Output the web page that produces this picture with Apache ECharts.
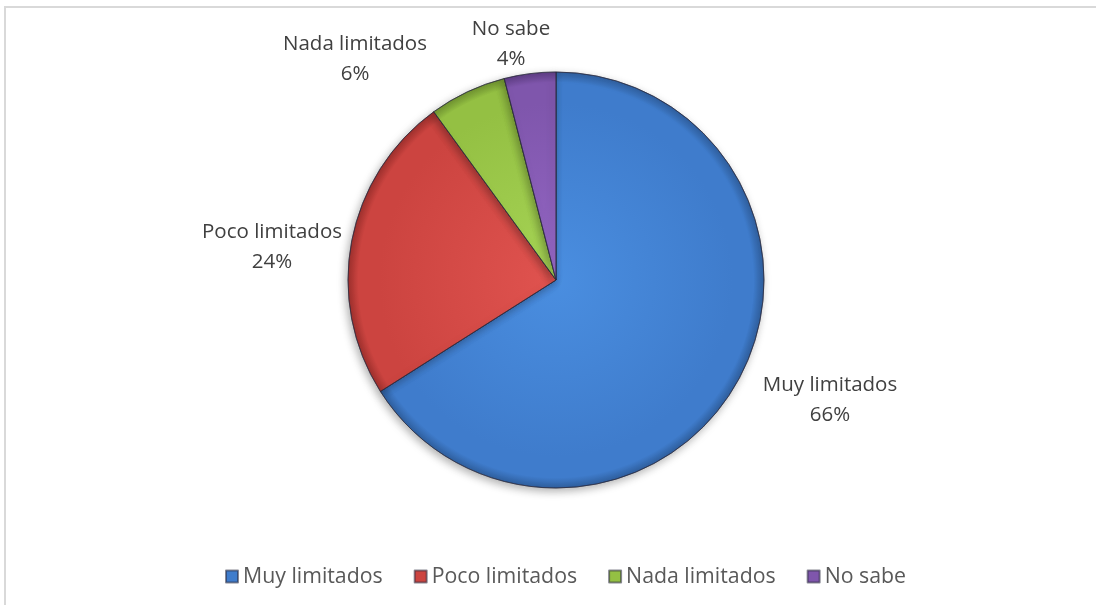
<!DOCTYPE html>
<html>
<head>
<meta charset="utf-8">
<script src="https://cdn.jsdelivr.net/npm/echarts@6/dist/echarts.min.js"></script>
<style>
  html, body { margin: 0; padding: 0; background: #fff; }
  #pieChart { width: 1096px; height: 605px; }
</style>
</head>
<body>
<div id="pieChart"></div>
<script>
// datos
var categories = ['Muy limitados', 'Poco limitados', 'Nada limitados', 'No sabe'];
var percents = [66, 24, 6, 4];

// colores estilo Office (claro en el centro, oscuro al borde)
var lightColors = ['#4a8ee0', '#e0534f', '#a6d455', '#9466c4'];
var baseColors = ['#3f7ccc', '#cc4440', '#94c043', '#7f56ac'];
var darkColors = ['#2f5f9e', '#9e302d', '#6f9330', '#5e3d84'];

var cx = 556, cy = 280, radius = 208;
// donde Excel coloca las etiquetas (centro del texto)
var labelSpots = [[830, 400], [272, 247], [355, 59], [511, 44]];

var chartDom = document.getElementById('pieChart');
var myChart = echarts.init(chartDom);
var option;

var pieData = categories.map(function (name, i) {
    return {
        name: name,
        value: percents[i],
        itemStyle: {
            color: {
                type: 'radial', x: cx, y: cy, r: radius, global: true,
                colorStops: [
                    { offset: 0, color: lightColors[i] },
                    { offset: 0.85, color: baseColors[i] },
                    { offset: 0.95, color: baseColors[i] },
                    { offset: 1, color: darkColors[i] }
                ]
            }
        }
    };
});

option = {
    backgroundColor: '#fff',
    color: baseColors,
    textStyle: { fontFamily: 'Open Sans' },
    graphic: [
        {
            type: 'rect',
            shape: { x: 5, y: 7, width: 1200, height: 700 },
            style: { fill: 'none', stroke: '#d9d9d9', lineWidth: 2 },
            silent: true
        }
    ],
    legend: {
        bottom: 13,
        left: 220,
        itemWidth: 12,
        itemHeight: 12,
        itemGap: 31,
        icon: 'rect',
        textStyle: { fontSize: 21.3, color: '#595959', fontFamily: 'Open Sans' },
        data: categories.map(function (name, i) {
            return { name: name, itemStyle: { color: baseColors[i] } };
        })
    },
    series: [
        {
            name: 'Limitación',
            type: 'pie',
            center: [cx, cy],
            radius: radius,
            startAngle: 90,
            clockwise: true,
            avoidLabelOverlap: false,
            data: pieData,
            itemStyle: {
                borderColor: 'rgba(40,40,60,0.55)',
                borderWidth: 1,
                shadowBlur: 8,
                shadowOffsetX: -2,
                shadowOffsetY: 3,
                shadowColor: 'rgba(0,0,0,0.3)'
            },
            label: {
                show: true,
                position: 'outside',
                formatter: '{b}\n{c}%',
                fontSize: 20.5,
                lineHeight: 30,
                color: '#404040',
                fontFamily: 'Open Sans'
            },
            labelLine: { show: false },
            labelLayout: function (params) {
                var spot = labelSpots[params.dataIndex];
                return { x: spot[0], y: spot[1], align: 'center', verticalAlign: 'middle' };
            },
            emphasis: { disabled: true }
        }
    ]
};

option && myChart.setOption(option);
</script>
</body>
</html>
